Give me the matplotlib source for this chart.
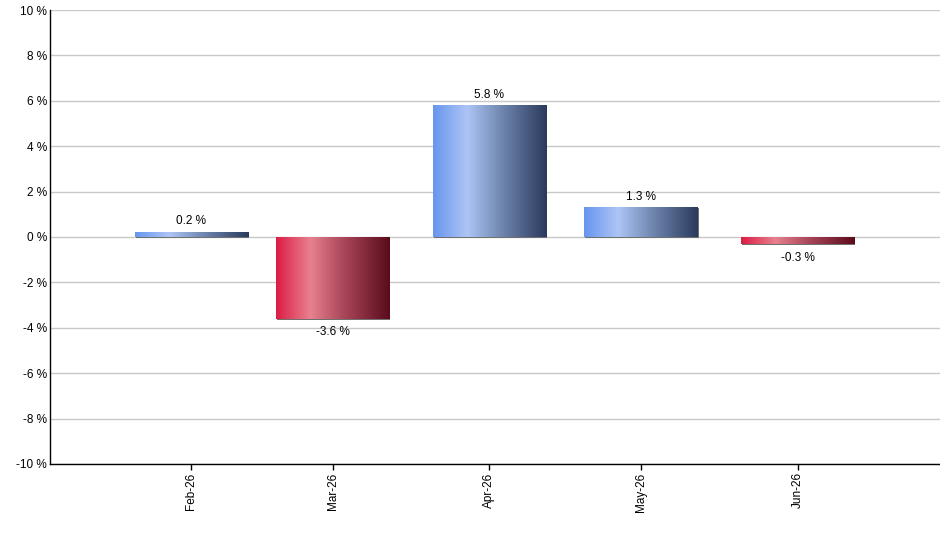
import matplotlib
matplotlib.use("Agg")
import matplotlib.pyplot as plt
import matplotlib.dates as mdates
from matplotlib.colors import LinearSegmentedColormap
from matplotlib.transforms import offset_copy
import numpy as np
import datetime as dt

# ---- data ----
months = ["2026-02-01", "2026-03-01", "2026-04-01", "2026-05-01", "2026-06-01"]
tick_labels = ["Feb-26", "Mar-26", "Apr-26", "May-26", "Jun-26"]
values = [0.24, -3.6, 5.8, 1.3, -0.33]
y_ticks = [-10, -8, -6, -4, -2, 0, 2, 4, 6, 8, 10]

plt.rcParams['font.family'] = ['Liberation Sans', 'DejaVu Sans']

dates = [dt.datetime.strptime(m, "%Y-%m-%d") for m in months]
xnum = mdates.date2num(dates)

fig = plt.figure(figsize=(9.4, 5.5), dpi=100)
ax = fig.add_axes([0.0527, 0.1564, 0.9473, 0.8254])

blue_cmap = LinearSegmentedColormap.from_list(
    "blue", [(0.0, "#6895ee"), (0.3, "#adc5f6"), (0.6, "#7087b0"), (1.0, "#2a3a5c")])
red_cmap = LinearSegmentedColormap.from_list(
    "red", [(0.0, "#dc1c44"), (0.3, "#e8818f"), (0.6, "#a94559"), (1.0, "#5a0c1c")])

bar_width = 22.4
bars = ax.bar(xnum, values, width=bar_width, color="none", edgecolor="none", zorder=3)

grad = np.linspace(0, 1, 256).reshape(1, -1)
for b, v in zip(bars, values):
    x0, w = b.get_x(), b.get_width()
    y0, h = b.get_y(), b.get_height()
    cmap = blue_cmap if v >= 0 else red_cmap
    shadow = plt.Rectangle((x0, y0), w, h, facecolor="#707070", edgecolor="none", zorder=2.5)
    ax.add_patch(shadow)
    shadow.set_transform(offset_copy(ax.transData, fig=fig, x=1, y=-1, units='dots'))
    im = ax.imshow(grad, cmap=cmap, aspect="auto",
                   extent=[x0, x0 + w, min(y0, y0 + h), max(y0, y0 + h)],
                   zorder=3, interpolation="bilinear")
    im.set_clip_path(b)

for x, v in zip(xnum, values):
    label = f"{v:.1f} %"
    if v >= 0:
        ax.annotate(label, (x, v), xytext=(0, 3), textcoords="offset points",
                    ha="center", va="bottom", fontsize=8.5, color="#000000", zorder=5)
    else:
        ax.annotate(label, (x, v), xytext=(0, -5.5), textcoords="offset points",
                    ha="center", va="top", fontsize=8.5, color="#000000", zorder=5)

ax.set_xlim(xnum[0] - 28.1, xnum[-1] + 28.2)
ax.set_ylim(-10, 10)
ax.set_yticks(y_ticks)
ax.set_yticklabels([f"{t} %" for t in y_ticks])
ax.set_xticks(xnum)
ax.set_xticklabels(tick_labels, rotation=90)

ax.grid(axis="y", color="#c8c8c8", linewidth=1, zorder=0)
ax.set_axisbelow(True)
for s in ["top", "right"]:
    ax.spines[s].set_visible(False)
for s in ["left", "bottom"]:
    ax.spines[s].set_color("black")
    ax.spines[s].set_linewidth(1)
ax.tick_params(axis="y", length=0, pad=2, labelsize=8.5, colors="black")
ax.tick_params(axis="x", length=4, width=1, pad=2, labelsize=8.5, colors="black")

fig.savefig("out.png", dpi=100)
